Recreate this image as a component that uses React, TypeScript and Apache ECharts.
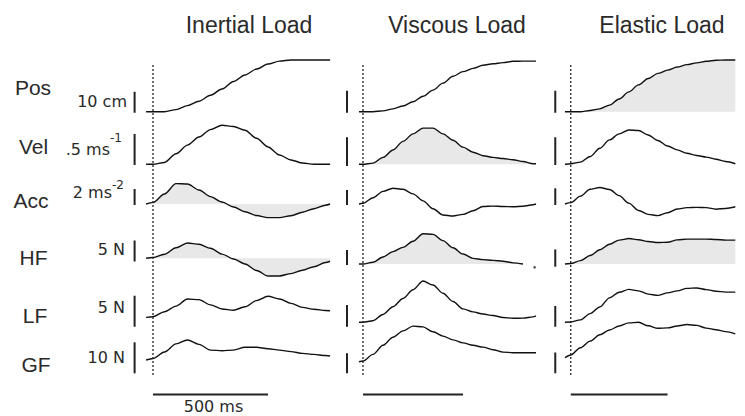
import React, { useEffect, useRef } from 'react';
import * as echarts from 'echarts';

// ---------- data ----------
const PANEL_TITLES = ['Inertial Load', 'Viscous Load', 'Elastic Load'];
const ROW_LABELS = ['Pos', 'Vel', 'Acc', 'HF', 'LF', 'GF'];
const SCALE_VALUES = [10, 0.5, 2, 5, 5, 10]; // cm, m/s, m/s², N, N, N
const SCALE_TEXTS = ['10 cm', '.5 ms', '2 ms', '5 N', '5 N', '10 N'];
const SCALE_SUPERS = ['', '-1', '-2', '', '', ''];
const TIME_BAR_MS = 500;
const TIME_BAR_LABEL = '500 ms';
const ONSET_MS = 0;
const SCALE_BAR_MS = -80;

const TIME_INERTIAL = [-30, 0, 50, 100, 150, 200, 250, 300, 350, 400, 450, 500, 550, 600, 650, 700, 750, 770];
const INERTIAL_POS = [0, 0, 0, 1.0, 2.9, 5.0, 7.8, 10.8, 14.4, 17.5, 20.3, 22.7, 24.1, 24.6, 24.6, 24.6, 24.6, 24.6];
const INERTIAL_VEL = [0, 0, 0.03, 0.17, 0.31, 0.44, 0.56, 0.63, 0.61, 0.55, 0.42, 0.28, 0.15, 0.07, 0.02, 0, 0, 0];
const INERTIAL_ACC = [0, 0.2, 1.25, 2.55, 2.5, 1.75, 0.92, 0.25, -0.37, -0.96, -1.44, -1.7, -1.7, -1.47, -1.03, -0.59, -0.15, 0];
const INERTIAL_HF = [0, 0.2, 0.95, 2.5, 3.65, 3.33, 2.4, 1.0, -0.15, -1.35, -2.9, -4.2, -4.2, -3.65, -2.85, -2.0, -1.0, -0.7];
const INERTIAL_LF = [-0.1, 0, 0.8, 1.7, 2.85, 2.75, 1.9, 1.25, 1.05, 1.6, 2.6, 3.3, 2.85, 2.15, 1.5, 1.2, 1.0, 0.97];
const INERTIAL_GF = [0, 0.5, 2.6, 5.2, 6.45, 5.05, 3.2, 3.0, 3.2, 4.1, 4.1, 3.65, 3.2, 2.7, 2.15, 1.8, 1.45, 1.3];

const TIME_VISCOUS = [-20, 0, 50, 100, 150, 200, 250, 300, 350, 400, 450, 500, 550, 600, 650, 700, 750, 800, 850, 865];
const VISCOUS_POS = [0, 0, 0, 0.38, 1.3, 2.6, 4.5, 7.0, 9.8, 13.0, 16.1, 18.2, 19.7, 21.1, 21.8, 22.3, 22.9, 23.0, 23.0, 23.0];
const VISCOUS_VEL = [0, 0, 0.02, 0.12, 0.25, 0.4, 0.53, 0.63, 0.63, 0.53, 0.42, 0.3, 0.21, 0.15, 0.12, 0.1, 0.08, 0.05, 0.01, 0.01];
const VISCOUS_ACC = [0, 0.1, 0.84, 1.69, 2.11, 1.96, 1.35, 0.42, -0.64, -1.46, -1.6, -1.38, -0.89, -0.33, -0.28, -0.33, -0.36, -0.29, -0.1, 0];
const VISCOUS_HF = [0, 0, 0.58, 2.35, 4.14, 5.55, 7.6, 10.1, 9.86, 7.8, 5.4, 3.33, 1.89, 1.46, 1.21, 0.93, 0.38, 0, null, null];
const VISCOUS_LF = [0, 0, 0.37, 1.81, 3.6, 5.5, 7.5, 9.5, 8.6, 6.7, 4.8, 3.1, 2.4, 1.9, 1.55, 1.12, 0.92, 0.96, 1.25, 1.46];
const VISCOUS_GF = [0, 0.33, 3.67, 8.2, 12.2, 15.4, 17.8, 17.4, 15.0, 12.8, 10.9, 9.4, 8.2, 7.3, 6.0, 4.8, 4.5, 4.5, 4.5, 4.5];
const VISCOUS_HF_DOT = [858, -1.1];

const TIME_ELASTIC = [-30, 0, 50, 100, 150, 200, 250, 300, 350, 400, 450, 500, 550, 600, 650, 700, 750, 800, 850];
const ELASTIC_POS = [0, 0, 0, 0.53, 1.3, 3.0, 5.8, 9.0, 12.2, 15.1, 17.4, 18.9, 20.3, 21.4, 22.2, 22.9, 23.4, 23.5, 23.5];
const ELASTIC_VEL = [0, 0.01, 0.04, 0.14, 0.29, 0.44, 0.55, 0.62, 0.61, 0.53, 0.43, 0.33, 0.26, 0.2, 0.16, 0.13, 0.09, 0.05, 0.01];
const ELASTIC_ACC = [0, 0.16, 0.94, 1.77, 1.98, 1.74, 1.0, 0.1, -0.77, -1.24, -1.39, -1.04, -0.6, -0.44, -0.4, -0.43, -0.62, -0.53, -0.33];
const ELASTIC_HF = [0, 0.13, 0.98, 2.44, 4.1, 5.7, 6.9, 7.35, 7.0, 6.5, 6.2, 6.3, 6.96, 7.2, 7.2, 7.2, 7.1, 6.9, 6.9];
const ELASTIC_LF = [0, 0.08, 0.58, 2.1, 3.7, 5.9, 7.26, 7.96, 7.6, 6.8, 6.5, 7.1, 7.6, 8.2, 8.3, 7.9, 7.5, 7.3, 7.3];
const ELASTIC_GF = [0, 1.3, 4.84, 8.0, 11.1, 13.4, 15.3, 16.8, 17.1, 15.4, 14.2, 14.4, 15.3, 16.05, 15.6, 14.3, 13.5, 12.6, 11.5];

const PANEL_DATA = [
  { time: TIME_INERTIAL, rows: [INERTIAL_POS, INERTIAL_VEL, INERTIAL_ACC, INERTIAL_HF, INERTIAL_LF, INERTIAL_GF], shaded: [false, false, true, true, false, false] },
  { time: TIME_VISCOUS, rows: [VISCOUS_POS, VISCOUS_VEL, VISCOUS_ACC, VISCOUS_HF, VISCOUS_LF, VISCOUS_GF], shaded: [false, true, false, true, false, false] },
  { time: TIME_ELASTIC, rows: [ELASTIC_POS, ELASTIC_VEL, ELASTIC_ACC, ELASTIC_HF, ELASTIC_LF, ELASTIC_GF], shaded: [true, false, false, true, false, false] },
];

// ---------- layout (pixels) ----------
const LAYOUT = [
  { x0: 153, pxPerMs: 0.23, baselines: [111.7, 164.3, 204, 258.3, 316.7, 360], pxPerUnit: [2.1, 62, 8, 4.2, 6.2, 3.1], barOffset: [1, 0.7, 1, 3.3, 10, 13.3], titleX: 249 },
  { x0: 363, pxPerMs: 0.2, baselines: [111.7, 164.3, 204, 264, 322.3, 361.7], pxPerUnit: [2.2, 57.4, 7.5, 3, 4.34, 2], barOffset: [1, 1.7, 1, 1, 4.4, 11.6], titleX: 457 },
  { x0: 571.7, pxPerMs: 0.203, baselines: [111.7, 164.3, 204, 264, 322.3, 357.7], pxPerUnit: [2.2, 55.4, 8.35, 3.46, 4.14, 2.07], barOffset: [1, 0.7, 1, 2.7, 4.4, 15.6], titleX: 662 },
];
const T_MIN = -100;
const T_MAX = 900;
const GRID_ABOVE = 70;
const GRID_BELOW = 40;
const FRAME_TOP = 60;
const FRAME_BOTTOM = 400;
const ONSET_TOP_PX = 63;
const ONSET_BOTTOM_PX = 375;
const TIME_BAR_PX = 394.5;

const ROW_LABEL_POS = [[33, 87], [33.5, 146], [31, 200], [33.5, 257], [35, 315], [36, 364]];
const SCALE_TEXT_POS = [[127, 101.5], [110, 149], [112, 192], [125, 249.5], [125, 307.5], [125, 357.5]];
const SUPER_POS = [[0, 0], [110, 137.5], [112, 184.5], [0, 0], [0, 0], [0, 0]];

const LINE_COLOR = '#111';
const TEXT_COLOR = '#2a2a2a';
const SHADE = '#e8e8e8';

export default function App() {
  const ref = useRef<HTMLDivElement>(null);
  useEffect(() => {
    document.body.style.margin = '0';
    const chart = echarts.init(ref.current as HTMLDivElement, null, { renderer: 'svg' });
    const grids: any[] = [];
    const xAxes: any[] = [];
    const yAxes: any[] = [];
    const series: any[] = [];
    const graphic: any[] = [];

    LAYOUT.forEach((L, p) => {
      const left = L.x0 + T_MIN * L.pxPerMs;
      const width = (T_MAX - T_MIN) * L.pxPerMs;
      const D = PANEL_DATA[p];
      ROW_LABELS.forEach((_, r) => {
        const b = L.baselines[r];
        const s = L.pxPerUnit[r];
        const gi = grids.length;
        grids.push({ left, width, top: b - GRID_ABOVE, height: GRID_ABOVE + GRID_BELOW });
        xAxes.push({ gridIndex: gi, type: 'value', min: T_MIN, max: T_MAX, show: false });
        yAxes.push({ gridIndex: gi, type: 'value', min: -GRID_BELOW / s, max: GRID_ABOVE / s, show: false });
        const vals = D.rows[r];
        const data = D.time.map((t, i) => [t, vals[i]]).filter((pt) => pt[1] !== null && pt[1] !== undefined);
        series.push({
          type: 'line',
          xAxisIndex: gi,
          yAxisIndex: gi,
          data,
          symbol: 'none',
          smooth: 0.3,
          smoothMonotone: 'x',
          silent: true,
          lineStyle: { color: LINE_COLOR, width: 1.4 },
          areaStyle: D.shaded[r] ? { color: SHADE, opacity: 1 } : undefined,
          z: D.shaded[r] ? 2 : 3,
        });
        const lo = -L.barOffset[r] / s;
        series.push({
          type: 'line',
          xAxisIndex: gi,
          yAxisIndex: gi,
          data: [[SCALE_BAR_MS, lo], [SCALE_BAR_MS, lo + SCALE_VALUES[r]]],
          symbol: 'none',
          silent: true,
          lineStyle: { color: '#222', width: 2 },
          z: 3,
        });
        if (p === 1 && r === 3) {
          series.push({
            type: 'scatter',
            xAxisIndex: gi,
            yAxisIndex: gi,
            data: [VISCOUS_HF_DOT],
            symbolSize: 2.5,
            silent: true,
            itemStyle: { color: LINE_COLOR },
            z: 3,
          });
        }
      });
      // frame grid for onset line and time bar
      const fi = grids.length;
      const fh = FRAME_BOTTOM - FRAME_TOP;
      grids.push({ left, width, top: FRAME_TOP, height: fh });
      xAxes.push({ gridIndex: fi, type: 'value', min: T_MIN, max: T_MAX, show: false });
      yAxes.push({ gridIndex: fi, type: 'value', min: 0, max: 1, show: false });
      const v = (px: number) => (FRAME_BOTTOM - px) / fh;
      series.push({
        type: 'line',
        xAxisIndex: fi,
        yAxisIndex: fi,
        data: [[ONSET_MS, v(ONSET_BOTTOM_PX)], [ONSET_MS, v(ONSET_TOP_PX)]],
        symbol: 'none',
        silent: true,
        lineStyle: { color: '#222', width: 1.3, type: [2, 2] },
        z: 4,
      });
      series.push({
        type: 'line',
        xAxisIndex: fi,
        yAxisIndex: fi,
        data: [[ONSET_MS, v(TIME_BAR_PX)], [ONSET_MS + TIME_BAR_MS, v(TIME_BAR_PX)]],
        symbol: 'none',
        silent: true,
        lineStyle: { color: '#222', width: 1.8 },
        z: 3,
      });
      graphic.push({
        type: 'text',
        x: L.titleX,
        y: 25,
        style: { text: PANEL_TITLES[p], fontSize: 23, fontFamily: 'Liberation Sans', fill: TEXT_COLOR, align: 'center', verticalAlign: 'middle' },
      });
    });

    ROW_LABELS.forEach((lab, r) => {
      graphic.push({
        type: 'text',
        x: ROW_LABEL_POS[r][0],
        y: ROW_LABEL_POS[r][1],
        style: { text: lab, fontSize: 21, fontFamily: 'Liberation Sans', fill: TEXT_COLOR, align: 'center', verticalAlign: 'middle' },
      });
      graphic.push({
        type: 'text',
        x: SCALE_TEXT_POS[r][0],
        y: SCALE_TEXT_POS[r][1],
        style: { text: SCALE_TEXTS[r], fontSize: 16, fontFamily: 'DejaVu Sans', fill: TEXT_COLOR, align: 'right', verticalAlign: 'middle' },
      });
      if (SCALE_SUPERS[r]) {
        graphic.push({
          type: 'text',
          x: SUPER_POS[r][0],
          y: SUPER_POS[r][1],
          style: { text: SCALE_SUPERS[r], fontSize: 12, fontFamily: 'DejaVu Sans', fill: TEXT_COLOR, align: 'left', verticalAlign: 'middle' },
        });
      }
    });

    const L0 = LAYOUT[0];
    graphic.push({
      type: 'text',
      x: L0.x0 + (TIME_BAR_MS / 2) * L0.pxPerMs + 3,
      y: 406,
      style: { text: TIME_BAR_LABEL, fontSize: 16, fontFamily: 'DejaVu Sans', fill: TEXT_COLOR, align: 'center', verticalAlign: 'middle' },
    });

    chart.setOption({
      animation: false,
      backgroundColor: '#ffffff',
      grid: grids,
      xAxis: xAxes,
      yAxis: yAxes,
      series,
      graphic,
    });
    return () => chart.dispose();
  }, []);
  return <div ref={ref} style={{ position: 'absolute', left: 0, top: 0, width: 745, height: 416 }} />;
}
